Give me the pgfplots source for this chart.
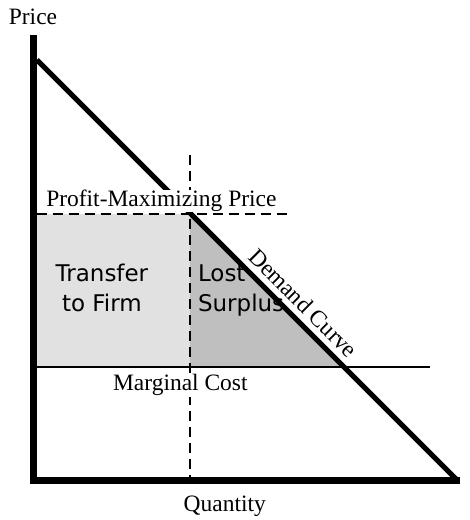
\documentclass[border=0pt]{standalone}
\usepackage{pgfplots}
\pgfplotsset{compat=1.18}
\usepackage{fontspec}
\setmainfont{Liberation Serif}
\newfontfamily\sansf{DejaVu Sans}
\definecolor{lightg}{RGB}{225,225,225}
\definecolor{darkg}{RGB}{191,191,191}
\begin{document}
\begin{tikzpicture}
\begin{axis}[
  scale only axis, width=470pt, height=520pt,
  xmin=0, xmax=470, ymin=0, ymax=520,
  hide axis, clip=false]
\addplot[draw=none] coordinates {(0,0) (470,520)};
% transfer to firm
\addplot[fill=lightg, draw=none] coordinates {(37,153) (190,153) (190,306) (37,306)} -- cycle;
% lost surplus
\addplot[fill=darkg, draw=none] coordinates {(190,306) (190,153) (344,153)} -- cycle;
% marginal cost
\addplot[black, line width=2pt] coordinates {(37,153) (430,153)};
% dashed lines
\addplot[black, line width=1.5pt, dash pattern=on 10pt off 6pt] coordinates {(190,365) (190,40)};
\addplot[black, line width=1.5pt, dash pattern=on 10pt off 6pt] coordinates {(37,306) (288,306)};
% demand
\addplot[black, line width=5pt] coordinates {(37,460) (458,39)};
% axes
\addplot[black, line width=7pt, line join=miter] coordinates {(33.5,485) (33.5,39) (460,39)};
\coordinate (price) at (axis cs:33,495);
\coordinate (qty) at (axis cs:225,8);
\coordinate (pmp) at (axis cs:161.5,313);
\coordinate (mc) at (axis cs:180.5,129);
\coordinate (dc) at (axis cs:298,211);
\coordinate (tf) at (axis cs:102,208);
\coordinate (ls) at (axis cs:198,208);
\end{axis}
\node[font=\fontsize{23.5}{28}\selectfont, anchor=base] at (price) {Price};
\node[font=\fontsize{23.5}{28}\selectfont, anchor=base] at (qty) {Quantity};
\node[font=\fontsize{23.5}{28}\selectfont, anchor=base, fill=white, draw=none, inner xsep=1pt, inner ysep=0pt] at (pmp) {Profit-Maximizing Price};
\node[font=\fontsize{23.5}{28}\selectfont, anchor=base, fill=white, draw=none, inner xsep=1pt, inner ysep=1pt] at (mc) {Marginal Cost};
\node[font=\fontsize{23.5}{28}\selectfont, rotate=-45, anchor=base, inner sep=0pt] at (dc) {Demand Curve};
\node[font=\sansf\fontsize{23}{30}\selectfont, anchor=base, align=center] at (tf) {Transfer\\to Firm};
\node[font=\sansf\fontsize{23}{30}\selectfont, anchor=base west, align=left, inner xsep=0pt] at (ls) {Lost\\Surplus};
\end{tikzpicture}
\end{document}
